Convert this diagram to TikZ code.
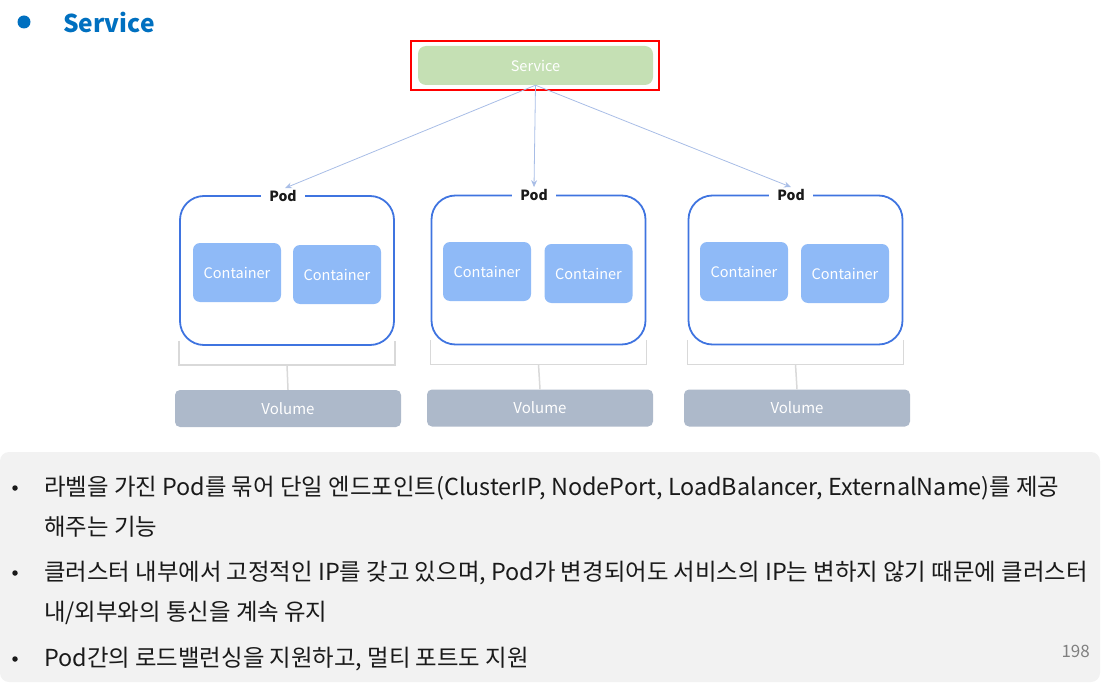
\documentclass[tikz,border=0pt]{standalone}
\usepackage{fontspec}
\setmainfont{Noto Sans CJK KR}
\usetikzlibrary{arrows.meta}
\definecolor{titleblue}{HTML}{0070C0}
\definecolor{svcgreen}{HTML}{C5E0B4}
\definecolor{podblue}{HTML}{3F74E0}
\definecolor{contblue}{HTML}{8FBAF7}
\definecolor{volgray}{HTML}{ADB9CA}
\definecolor{arrowblue}{HTML}{A8BDE6}
\definecolor{brackgray}{HTML}{D9D9D9}
\definecolor{panelgray}{HTML}{F2F2F2}
\definecolor{txtdark}{HTML}{1A1A1A}
\tikzset{
  svcbox/.style={fill=svcgreen, rounded corners=8pt, minimum width=235pt, minimum height=39pt, text=white, font=\fontsize{14.5}{16}\selectfont, inner sep=0pt},
  redframe/.style={draw=red, line width=2.6pt, minimum width=248pt, minimum height=49pt, inner sep=0pt},
  podbox/.style={draw=podblue, line width=1.8pt, rounded corners=24pt, minimum width=214pt, minimum height=149pt, inner sep=0pt},
  podlabel/.style={fill=white, font=\fontsize{14}{16}\selectfont\bfseries, text=txtdark, inner xsep=8pt, inner ysep=1pt},
  contbox/.style={fill=contblue, rounded corners=7pt, minimum width=88pt, minimum height=59pt, text=white, font=\fontsize{14.5}{16}\selectfont, inner sep=0pt},
  volbox/.style={fill=volgray, rounded corners=5pt, minimum width=226pt, minimum height=37pt, text=white, font=\fontsize{15}{17}\selectfont, inner sep=0pt},
  bracket/.style={draw=brackgray, line width=1.5pt},
  arr/.style={draw=arrowblue, line width=0.8pt, -{Stealth[length=7pt,width=6pt]}},
  bodytext/.style={anchor=west, text=txtdark, font=\fontsize{23.4}{26}\selectfont, inner sep=0pt},
  bul/.style={fill=txtdark, circle, inner sep=0pt, minimum size=5.5pt},
}
\begin{document}
\begin{tikzpicture}[x=1pt,y=-1pt]
\useasboundingbox (0,0) rectangle (1107,687);
% title
\fill[titleblue] (24,22) circle (6.5);
\node[anchor=west, text=titleblue, font=\fontsize{24.5}{27}\selectfont\bfseries, inner sep=0pt] (title) at (63,22) {Service};
% service
\node[redframe] (frame) at (535,65.5) {};
\node[svcbox] (svc) at (535.5,65.5) {Service};
% pods
\node[podbox] (p1) at (287,270.5) {};
\node[podbox] (p2) at (538.5,270) {};
\node[podbox] (p3) at (795.5,270) {};
\node[podlabel] (l1) at (283,196) {Pod};
\node[podlabel] (l2) at (534,195) {Pod};
\node[podlabel] (l3) at (791,195) {Pod};
% containers
\node[contbox] (c11) at (237,272.5) {Container};
\node[contbox] (c12) at (337,274.5) {Container};
\node[contbox] (c21) at (487,271.5) {Container};
\node[contbox] (c22) at (588.5,273.5) {Container};
\node[contbox] (c31) at (744,271.5) {Container};
\node[contbox] (c32) at (845,273.5) {Container};
% volumes
\node[volbox] (v1) at (288,408.5) {Volume};
\node[volbox] (v2) at (540,408) {Volume};
\node[volbox] (v3) at (797,408) {Volume};
% brackets
\foreach \p/\v in {p1/v1,p2/v2,p3/v3}{
  \draw[bracket] ([yshift=5pt]\p.south west) -- ([yshift=-19pt]\p.south west) -- ([yshift=-19pt]\p.south east) -- ([yshift=5pt]\p.south east);
  \draw[bracket] ([yshift=-19pt]\p.south) -- (\v.north);
}
% arrows
\draw[arr] (svc.south) -- ([xshift=2pt,yshift=1pt]l1.north);
\draw[arr] (svc.south) -- ([yshift=1pt]l2.north);
\draw[arr] (svc.south) -- ([yshift=1pt]l3.north);
% panel
\fill[panelgray, rounded corners=9pt] (0,452) rectangle (1100,682);
\node[bul] (b1) at (15,488) {};
\node[bodytext] (t1) at (44,488) {라벨을 가진 Pod를 묶어 단일 엔드포인트(ClusterIP, NodePort, LoadBalancer, ExternalName)를 제공};
\node[bodytext] (t2) at (44,527) {해주는 기능};
\node[bul] (b2) at (15,573) {};
\node[bodytext] (t3) at (44,573) {클러스터 내부에서 고정적인 IP를 갖고 있으며, Pod가 변경되어도 서비스의 IP는 변하지 않기 때문에 클러스터};
\node[bodytext] (t4) at (44,613) {내/외부와의 통신을 계속 유지};
\node[bul] (b3) at (15,659) {};
\node[bodytext] (t5) at (44,659) {Pod간의 로드밸런싱을 지원하고, 멀티 포트도 지원};
\node[anchor=east, text=gray, font=\fontsize{17}{20}\selectfont, inner sep=0pt] (page) at (1090,651) {198};
\end{tikzpicture}
\end{document}
